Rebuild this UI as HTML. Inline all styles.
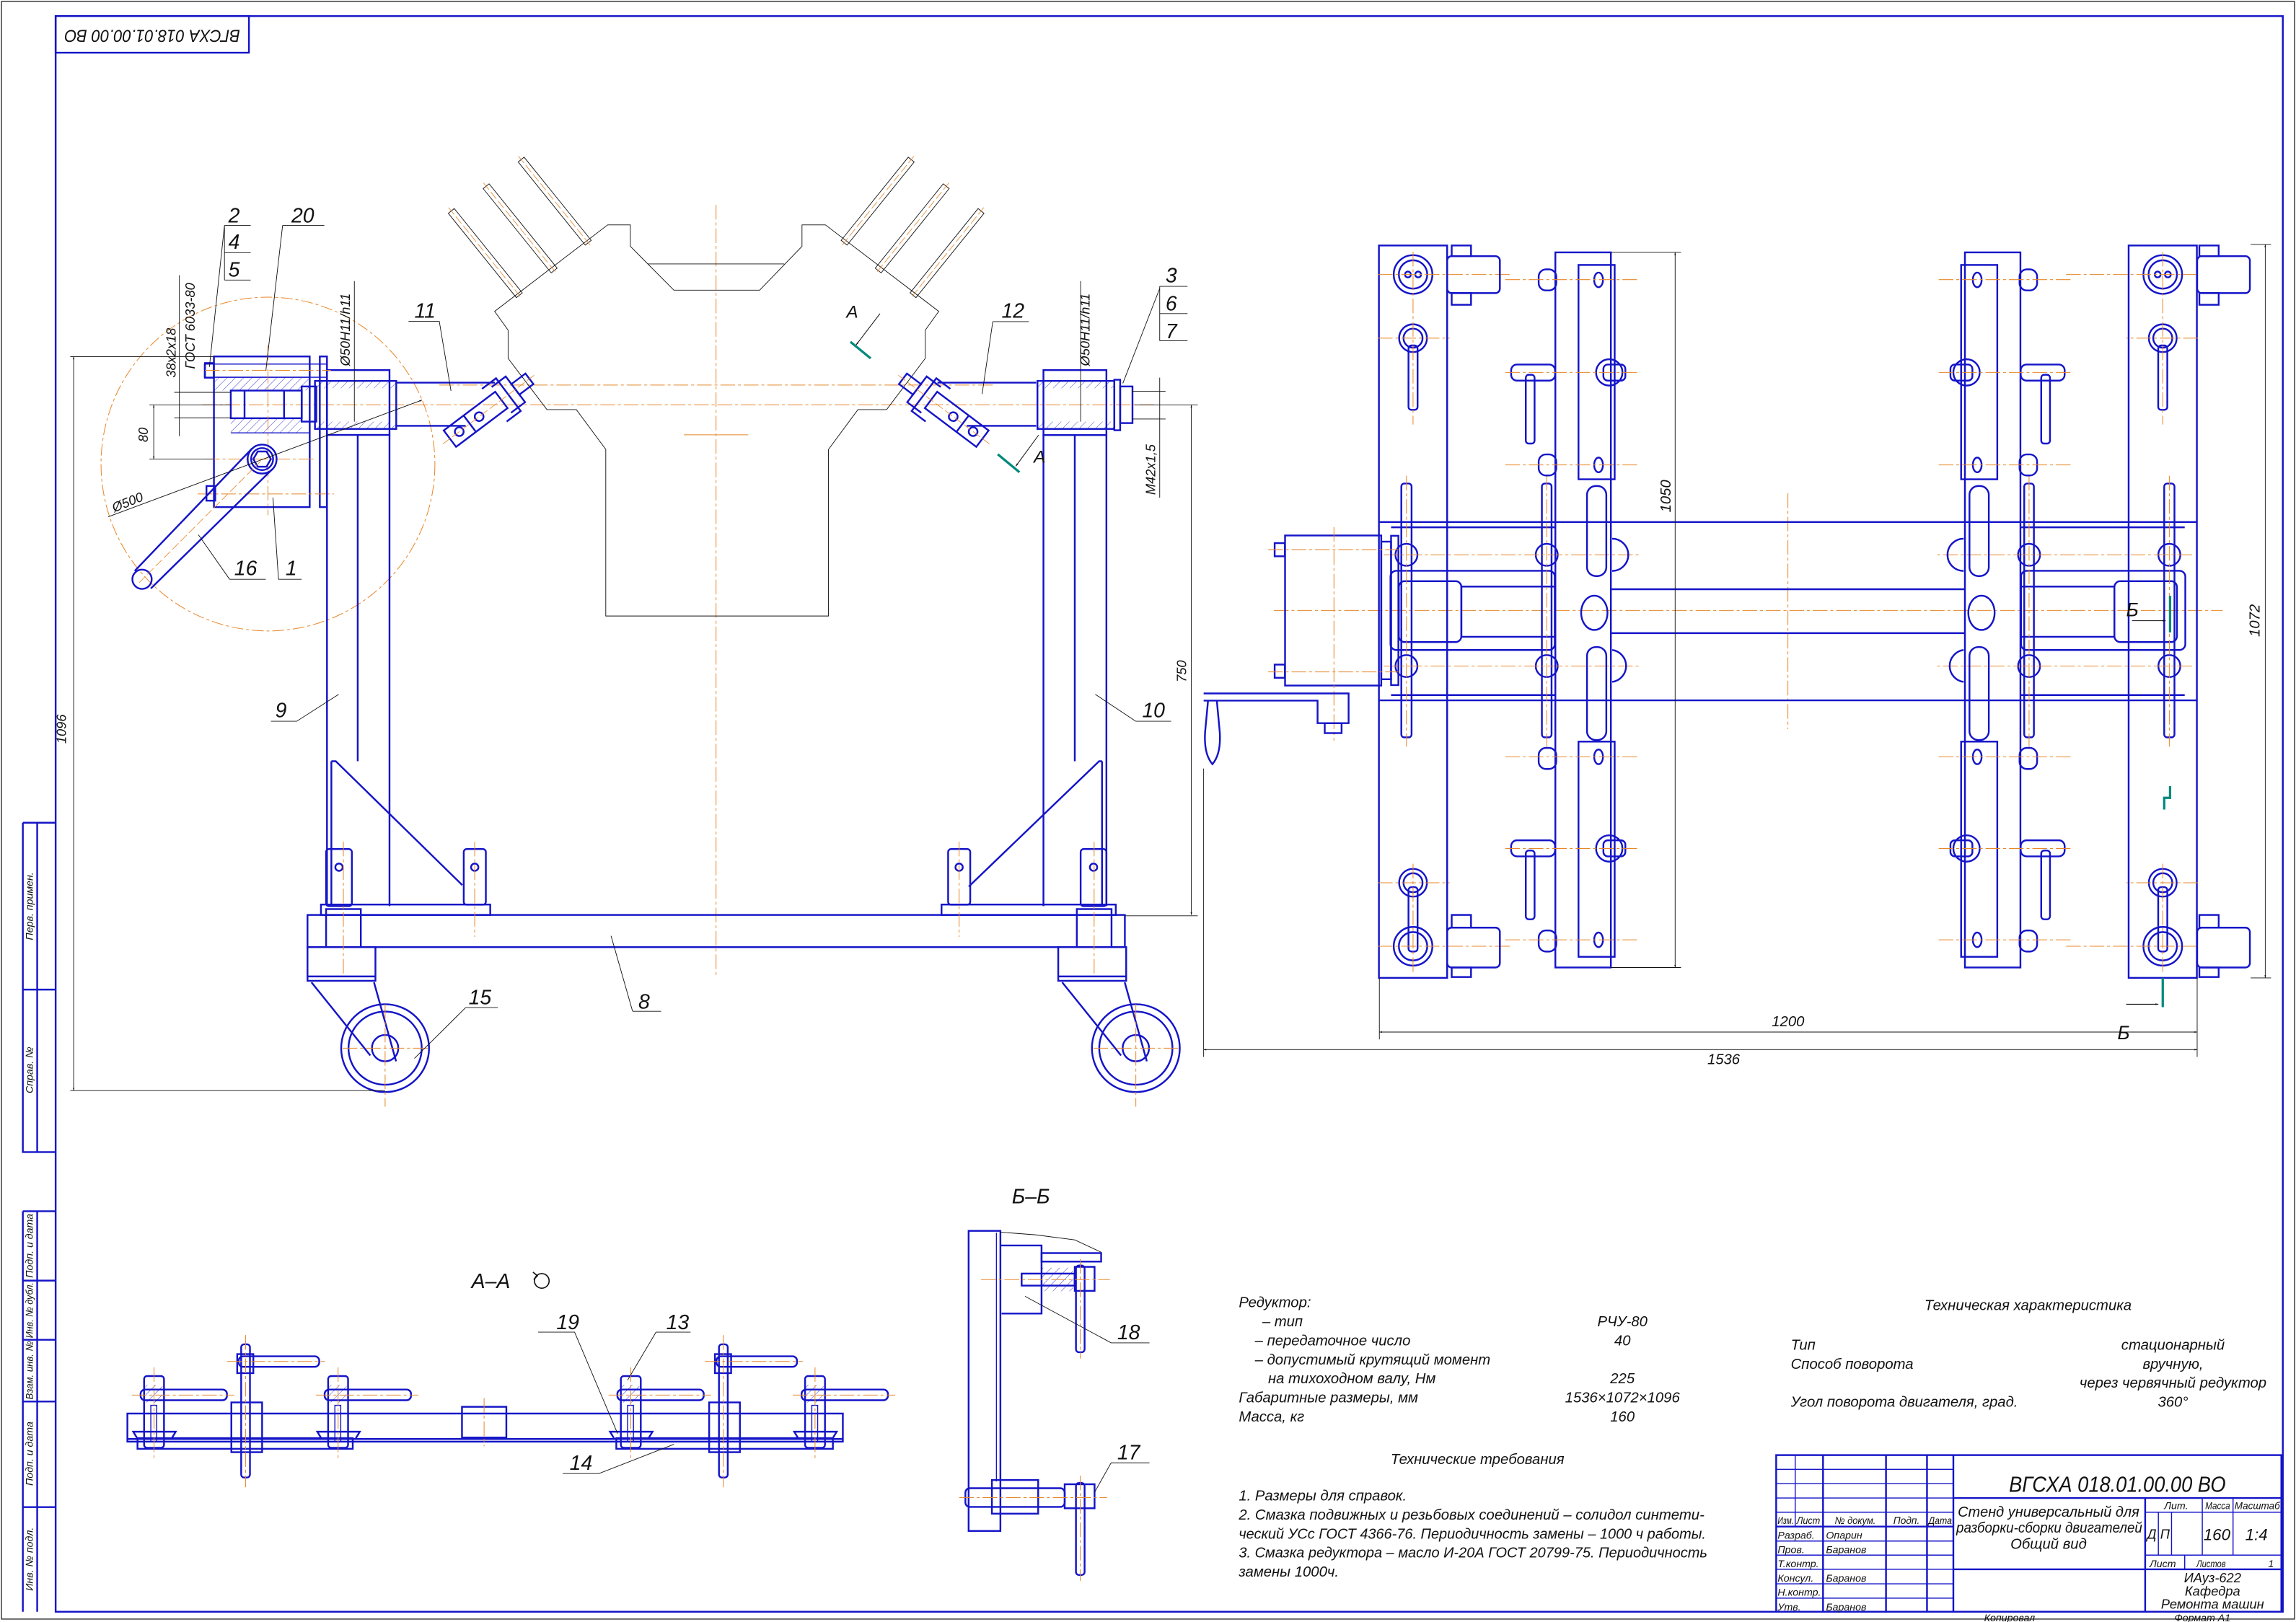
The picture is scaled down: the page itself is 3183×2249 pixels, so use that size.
<!DOCTYPE html>
<html><head><meta charset="utf-8">
<style>
html,body{margin:0;padding:0;background:#fff;}
svg{display:block;}
.t{font-family:"Liberation Sans Narrow","Liberation Sans",sans-serif;font-style:italic;fill:#111;}
.b{stroke:#1414c8;fill:none;stroke-width:1.2;}
.bt{stroke:#1414c8;fill:none;stroke-width:0.7;}
.k{stroke:#111;fill:none;stroke-width:0.45;}
.o{stroke:#e8872a;fill:none;stroke-width:0.5;stroke-dasharray:10 2 2 2;}
.tl{stroke:#00897b;fill:none;stroke-width:1.6;}
</style></head>
<body>
<svg width="3183" height="2249" viewBox="0 0 1568 1108" preserveAspectRatio="none" xmlns="http://www.w3.org/2000/svg">
<defs>
<pattern id="h" width="4" height="4" patternUnits="userSpaceOnUse" patternTransform="rotate(45)">
<line x1="0" y1="0" x2="0" y2="4" stroke="#1414c8" stroke-width="0.4"/>
</pattern>
<marker id="ar" viewBox="0 0 10 10" refX="10" refY="5" markerWidth="6" markerHeight="4" orient="auto-start-reverse"><path d="M0,2 L10,5 L0,8 z" fill="#111"/></marker>
</defs>
<rect x="0" y="0" width="1568" height="1108" fill="#fff"/>
<rect x="1" y="1" width="1566" height="1105" fill="none" stroke="#111" stroke-width="0.6"/>
<rect x="38" y="11" width="1521" height="1090" class="b"/>
<rect x="38" y="11" width="132" height="25" class="b"/>
<text class="t" x="44" y="23.5" font-size="12" textLength="120" lengthAdjust="spacingAndGlyphs" dominant-baseline="middle" transform="rotate(180 104 23.5)">ВГСХА 018.01.00.00 ВО</text>
<g class="b">
<path d="M15.6,562 H38 M15.6,562 V787 H38 M25.4,562 V787 M15.6,676 H38"/>
<path d="M15.6,827.4 H38 M15.6,827.4 V1101 M25.4,827.4 V1101 M15.6,874.8 H38 M15.6,915.2 H38 M15.6,957.4 H38 M15.6,1029.5 H38"/>
</g>
<g class="t" font-size="7" text-anchor="middle">
<text transform="translate(22.5 619) rotate(-90)">Перв. примен.</text>
<text transform="translate(22.5 731) rotate(-90)">Справ. №</text>
<text transform="translate(22.5 851) rotate(-90)">Подп. и дата</text>
<text transform="translate(22.5 895) rotate(-90)" textLength="38" lengthAdjust="spacingAndGlyphs">Инв. № дубл.</text>
<text transform="translate(22.5 936) rotate(-90)" textLength="40" lengthAdjust="spacingAndGlyphs">Взам. инв. №</text>
<text transform="translate(22.5 993) rotate(-90)">Подп. и дата</text>
<text transform="translate(22.5 1065) rotate(-90)">Инв. № подл.</text>
</g>

<line x1="489" y1="140" x2="489" y2="668" class="o"/>
<line x1="300" y1="263" x2="680" y2="263" class="o"/>
<line x1="138" y1="276.5" x2="790" y2="276.5" class="o"/>
<line x1="467" y1="297" x2="511" y2="297" stroke="#e8872a" stroke-width="0.5"/>
<circle cx="183" cy="317" r="114" fill="none" stroke="#e8872a" stroke-width="0.5" stroke-dasharray="8 2 2 2"/>
<polygon class="k" points="413.7,420.8 413.7,307 393.6,279.8 373.5,279.8 347,244.8 347,225.5 337.8,212.7 415,153.6 430.5,153.6 430.5,168.3 460.2,198.2 518.8,198.2 547.7,168.3 547.7,153.6 563.7,153.6 641.1,212.7 631.9,225.5 631.9,244.8 605.5,279.8 585.9,279.8 565.8,307 565.8,420.8"/>
<line x1="442.6" y1="180.3" x2="535.6" y2="180.3" class="k"/>
<g id="sticks">
<g transform="translate(308.2 144.1) rotate(51.1)"><rect x="0" y="-2.6" width="74" height="5.2" class="k"/><line x1="-3" y1="0" x2="77" y2="0" stroke="#e8872a" stroke-width="0.4" stroke-dasharray="6 2"/></g>
<g transform="translate(332 127.2) rotate(51.1)"><rect x="0" y="-2.6" width="74" height="5.2" class="k"/><line x1="-3" y1="0" x2="77" y2="0" stroke="#e8872a" stroke-width="0.4" stroke-dasharray="6 2"/></g>
<g transform="translate(355.9 109) rotate(51.1)"><rect x="0" y="-2.6" width="73" height="5.2" class="k"/><line x1="-3" y1="0" x2="76" y2="0" stroke="#e8872a" stroke-width="0.4" stroke-dasharray="6 2"/></g>
</g>
<use href="#sticks" transform="matrix(-1 0 0 1 978.2 0)"/>
<g id="clampL">
<line x1="270.6" y1="261.4" x2="338" y2="261.4" class="b"/>
<line x1="270.6" y1="290.9" x2="318" y2="290.9" class="b"/>
<g transform="translate(336 278) rotate(-37)">
<rect x="-36" y="-7" width="44" height="14" class="b" fill="#fff"/>
<line x1="-19" y1="-7" x2="-19" y2="7" class="b"/>
<circle cx="-28" cy="0" r="3" class="b"/><circle cx="-11" cy="0" r="3" class="b"/>
<path d="M2,-14 H14 V14 H2 M8,-11 H20 V11 H8" class="b"/>
<rect x="20" y="-4.5" width="12" height="9" class="b"/>
<line x1="-42" y1="0" x2="38" y2="0" stroke="#e8872a" stroke-width="0.4" stroke-dasharray="6 2"/>
</g>
</g>
<use href="#clampL" transform="matrix(-1 0 0 1 978.2 0)"/>
<rect x="146.1" y="243.5" width="65.4" height="102.9" class="b"/>
<rect x="146.1" y="257.7" width="65.4" height="9" fill="url(#h)"/>
<rect x="157.6" y="285.7" width="48.5" height="10" fill="url(#h)"/>
<rect x="157.6" y="266.8" width="48.5" height="18.9" class="b"/>
<line x1="167" y1="266.8" x2="167" y2="285.7" class="b"/><line x1="194" y1="266.8" x2="194" y2="285.7" class="b"/>
<path d="M146.1,257.7 H211.5 M157.6,295.7 H211.5" class="bt"/>
<rect x="139.6" y="248.7" width="83.7" height="9" class="bt"/>
<rect x="140" y="248" width="6" height="10" class="b"/>
<rect x="218.4" y="243.5" width="4.9" height="102.9" class="b"/>
<rect x="206" y="264" width="10" height="24" class="b"/>
<rect x="215.1" y="260.2" width="55.5" height="32.8" class="b"/>
<rect x="215.1" y="260.2" width="55.5" height="5" fill="url(#h)"/>
<rect x="215.1" y="288" width="55.5" height="5" fill="url(#h)"/>
<rect x="223.3" y="252.8" width="42.7" height="44.3" class="b"/>
<line x1="183" y1="236" x2="183" y2="352" class="o"/>
<line x1="140" y1="313.6" x2="215" y2="313.6" class="o"/>
<line x1="135" y1="337.4" x2="228" y2="337.4" class="o"/>
<line x1="140" y1="253" x2="226" y2="253" class="o"/>
<path d="M172,306.5 L92,390 M186,320.5 L103,402" class="b"/>
<circle cx="179" cy="313.6" r="9.9" class="b" fill="#fff"/>
<circle cx="179" cy="313.6" r="7.5" class="b"/>
<polygon points="185,313.6 182,318.8 176,318.8 173,313.6 176,308.4 182,308.4" class="b"/>
<circle cx="97" cy="395.7" r="6.6" class="b" fill="#fff"/>
<line x1="95" y1="398" x2="178" y2="315" stroke="#e8872a" stroke-width="0.4" stroke-dasharray="6 2"/>
<rect x="141" y="332" width="6" height="10" class="b"/>
<path d="M223.3,297 V619 M244.3,297 V520 M266,297 V619 M226.3,520 V619" class="b"/>
<polyline points="226.3,520 229.3,520 315.7,604.6" class="b"/>
<path d="M712.6,297 V619 M734,297 V520 M755.6,297 V619 M752.6,520 V619" class="b"/>
<polyline points="752.6,520 750.6,520 661.6,605.6" class="b"/>
<rect x="708.5" y="260.2" width="52.5" height="32.8" class="b"/>
<rect x="708.5" y="260.2" width="52.5" height="5" fill="url(#h)"/>
<rect x="708.5" y="288" width="52.5" height="5" fill="url(#h)"/>
<rect x="712.6" y="252.8" width="43" height="44.4" class="b"/>
<rect x="761" y="259.4" width="4" height="34.5" class="b"/>
<rect x="765" y="264" width="8.4" height="25" class="b"/>
<rect x="222.7" y="580" width="17.6" height="39" rx="2" class="b"/>
<circle cx="231.5" cy="592.4" r="2.5" class="b"/>
<rect x="316.7" y="580" width="15.1" height="38" rx="2" class="b"/>
<circle cx="324.2" cy="592.4" r="2.5" class="b"/>
<rect x="647.5" y="580" width="15.1" height="38" rx="2" class="b"/>
<circle cx="655" cy="592.4" r="2.5" class="b"/>
<rect x="738" y="580" width="17.6" height="39" rx="2" class="b"/>
<circle cx="746.8" cy="592.4" r="2.5" class="b"/>
<rect x="219.2" y="617.9" width="115.6" height="7.1" class="b"/>
<rect x="643" y="617.9" width="119" height="7.1" class="b"/>
<rect x="210" y="625" width="558.2" height="22" class="b"/>
<line x1="324.2" y1="575" x2="324.2" y2="640" class="o"/><line x1="655" y1="575" x2="655" y2="640" class="o"/>
<g id="casterL">
<rect x="222.7" y="621" width="23.7" height="26" class="b"/>
<rect x="210" y="647" width="46.4" height="23" class="b"/>
<line x1="210" y1="667" x2="256.4" y2="667" class="b"/>
<path d="M212.7,671 L252.9,721 M255.4,671 L270.5,725" class="b"/>
<circle cx="263" cy="716" r="30" class="b"/>
<circle cx="263" cy="716" r="25" class="b"/>
<circle cx="263" cy="716" r="9" class="b"/>
<line x1="234" y1="716" x2="293" y2="716" class="o"/>
<line x1="263" y1="686" x2="263" y2="756" class="o"/>
<line x1="234.5" y1="575" x2="234.5" y2="665" class="o"/>
</g>
<use href="#casterL" transform="translate(512.7 0)"/>
<g class="k">
<line x1="50.3" y1="243.6" x2="50.3" y2="745" marker-start="url(#ar)" marker-end="url(#ar)"/>
<line x1="48" y1="243.6" x2="146" y2="243.6"/>
<line x1="48" y1="745" x2="263" y2="745"/>
<line x1="105" y1="276.6" x2="105" y2="313.6" marker-start="url(#ar)" marker-end="url(#ar)"/>
<line x1="102" y1="276.6" x2="158" y2="276.6"/><line x1="102" y1="313.6" x2="146" y2="313.6"/>
<line x1="122.5" y1="188" x2="122.5" y2="298"/>
<line x1="119" y1="268" x2="158" y2="268"/><line x1="119" y1="285.5" x2="158" y2="285.5"/>
<line x1="242" y1="192" x2="242" y2="288"/>
<line x1="73.9" y1="353" x2="288.2" y2="273.3" marker-end="url(#ar)"/>
<line x1="738" y1="192" x2="738" y2="288"/>
<line x1="792" y1="258" x2="792" y2="340"/>
<line x1="773" y1="267.3" x2="796" y2="267.3"/><line x1="773" y1="286.2" x2="796" y2="286.2"/>
<line x1="813.6" y1="276.6" x2="813.6" y2="625" marker-start="url(#ar)" marker-end="url(#ar)"/>
<line x1="775" y1="276.6" x2="818" y2="276.6"/><line x1="768" y1="625.6" x2="818" y2="625.6"/>
<path d="M153.3,154 H171.2 M153.3,172.6 H171.2 M153.3,191.3 H171.2 M153.3,154 V191.3 M153.3,154 L143,250.7"/>
<path d="M193,154 H221.5 M193,154 L181.6,252.9"/>
<path d="M279,219.5 H300 L308,267"/>
<path d="M678,219.7 H702.7 M678,219.7 L670.7,269.2"/>
<path d="M792,195.6 H811 M792,214.2 H811 M792,232.8 H811 M792,195.6 V232.8 M792,197 L766.8,261.9"/>
<path d="M156.8,395.7 H181.5 M156.8,395.7 L135.5,365.3 M190,395.7 H206 M190.2,395.7 L186.4,339.9"/>
<path d="M185,492.7 H202.6 L231.3,474.3"/>
<path d="M775.7,492.7 H799.8 M775.7,492.7 L748,474.3"/>
<path d="M318,688.3 H340 M318,688.3 L283,723"/>
<path d="M432,690.8 H451.5 M432,690.8 L417.3,639.3"/>
</g>
<g class="t" font-size="14">
<text x="156" y="152">2</text><text x="156" y="170">4</text><text x="156" y="189">5</text>
<text x="199" y="152">20</text>
<text x="283" y="217">11</text>
<text x="684" y="217">12</text>
<text x="796" y="193">3</text><text x="796" y="212">6</text><text x="796" y="231">7</text>
<text x="160" y="393">16</text><text x="195" y="393">1</text>
<text x="188" y="490">9</text>
<text x="780" y="490">10</text>
<text x="320" y="686">15</text>
<text x="436" y="689">8</text>
<text x="578" y="217" font-size="12">А</text>
<text x="706" y="316" font-size="12">А</text>
</g>
<g class="t" font-size="9">
<text transform="translate(120 258) rotate(-90)">38х2х18</text>
<text transform="translate(133 252) rotate(-90)">ГОСТ 6033-80</text>
<text transform="translate(239 250) rotate(-90)">Ø50H11/h11</text>
<text transform="translate(744 250) rotate(-90)">Ø50H11/h11</text>
<text transform="translate(101 302) rotate(-90)">80</text>
<text transform="translate(78 350) rotate(-22)">Ø500</text>
<text transform="translate(789 338) rotate(-90)">М42х1,5</text>
<text transform="translate(810 466) rotate(-90)">750</text>
<text transform="translate(45 508) rotate(-90)">1096</text>
</g>
<line x1="580.8" y1="233.5" x2="594.6" y2="244.8" class="tl"/>
<line x1="601" y1="214.2" x2="584.6" y2="235.7" stroke="#111" stroke-width="0.5" marker-end="url(#ar)"/>
<line x1="681.4" y1="310.3" x2="696.2" y2="322.6" class="tl"/>
<line x1="709.3" y1="297.2" x2="693.7" y2="318.5" stroke="#111" stroke-width="0.5" marker-end="url(#ar)"/>

<line x1="870" y1="417" x2="1518" y2="417" class="o"/>
<line x1="1221" y1="337" x2="1221" y2="498" class="o"/>
<g id="half">
<rect x="941.7" y="167.7" width="46.6" height="500.3" class="b"/>
<path d="M941.7,356.6 H1221 M941.7,478.4 H1221 M950,360.2 H1062 M950,474.8 H1062" class="b"/>
<rect x="949.6" y="389.9" width="112.2" height="54.1" rx="4" class="b"/>
<rect x="955.3" y="397" width="42.7" height="41.6" rx="4" class="b"/>
<rect x="998" y="400.7" width="64" height="34.3" class="b"/>
<path d="M1100,402.5 H1221 M1100,432.5 H1221" class="b"/>
<circle cx="965" cy="187.5" r="13.2" class="b"/><circle cx="965" cy="187.5" r="9.7" class="b"/>
<circle cx="961.5" cy="187.5" r="2" class="b"/><circle cx="968.5" cy="187.5" r="2" class="b"/>
<circle cx="965" cy="231" r="9.5" class="b"/><circle cx="965" cy="231" r="6.5" class="b"/>
<rect x="961.9" y="236" width="6.2" height="44" rx="2" class="b"/>
<circle cx="965" cy="646.4" r="13.2" class="b"/><circle cx="965" cy="646.4" r="9.7" class="b"/>
<circle cx="965" cy="603" r="9.5" class="b"/><circle cx="965" cy="603" r="6.5" class="b"/>
<rect x="961.9" y="606" width="6.2" height="44" rx="2" class="b"/>
<path d="M941,187.5 H1033 M941,231 H990 M941,646.4 H1033 M941,603 H990 M965,172 V290 M965,590 V665" class="o"/>
<rect x="957" y="330.3" width="7" height="173.4" rx="2" class="b"/>
<circle cx="960.5" cy="379" r="7.5" class="b" fill="#fff"/><circle cx="960.5" cy="455" r="7.5" class="b" fill="#fff"/>
<rect x="1053" y="330.3" width="6.6" height="173.4" rx="2" class="b"/>
<circle cx="1056.3" cy="379" r="7.5" class="b" fill="#fff"/><circle cx="1056.3" cy="455" r="7.5" class="b" fill="#fff"/>
<path d="M945,379 H1120 M945,455 H1120 M960.5,325 V510 M1056.3,325 V510" class="o"/>
<rect x="1062.2" y="172.4" width="37.9" height="488.5" class="b" fill="#fff"/>
<rect x="1078" y="181" width="24.7" height="146.4" class="b"/>
<rect x="1078" y="506.6" width="24.7" height="147" class="b"/>
<rect x="1083.8" y="332" width="13.2" height="61.5" rx="6" class="b"/>
<rect x="1083.8" y="442" width="13.2" height="63.5" rx="6" class="b"/>
<ellipse cx="1088.8" cy="418.6" rx="9" ry="11.7" class="b"/>
<path d="M1101,368 A11,11 0 0 1 1101,390 M1101,444 A11,11 0 0 1 1101,465.8" class="b"/>
<ellipse cx="1091.7" cy="191.2" rx="3" ry="5" class="b"/><ellipse cx="1091.7" cy="317.6" rx="3" ry="5" class="b"/>
<ellipse cx="1091.7" cy="517" rx="3" ry="5" class="b"/><ellipse cx="1091.7" cy="642" rx="3" ry="5" class="b"/>
<rect x="1050.8" y="184" width="12" height="14.4" rx="5" class="b"/>
<rect x="1050.8" y="310.4" width="12" height="14.4" rx="5" class="b"/>
<rect x="1050.8" y="510.9" width="12" height="14.4" rx="5" class="b"/>
<rect x="1050.8" y="635.6" width="12" height="14.4" rx="5" class="b"/>
<rect x="1032" y="249" width="30" height="11" rx="4" class="b"/>
<rect x="1042" y="256" width="6" height="47" rx="2" class="b"/>
<rect x="1032" y="574" width="30" height="11" rx="4" class="b"/>
<rect x="1042" y="581" width="6" height="47" rx="2" class="b"/>
<circle cx="1099" cy="254.4" r="9" class="b"/><rect x="1095" y="249" width="15" height="11" rx="3" class="b"/>
<circle cx="1099" cy="579.6" r="9" class="b"/><rect x="1095" y="574" width="15" height="11" rx="3" class="b"/>
<path d="M1028,191 H1118 M1028,254.4 H1118 M1028,317.6 H1118 M1028,517 H1118 M1028,579.6 H1118 M1028,642 H1118" class="o"/>
</g>
<use href="#half" transform="matrix(-1 0 0 1 2442 0)"/>
<rect x="988.3" y="175" width="36" height="25.2" rx="3" class="b"/>
<rect x="991.4" y="167.7" width="13.2" height="7.3" class="b"/><rect x="991.4" y="200.2" width="13.2" height="8" class="b"/>
<rect x="988.3" y="633.7" width="36" height="27.2" rx="3" class="b"/>
<rect x="991.4" y="625" width="13.2" height="8.7" class="b"/><rect x="991.4" y="660.9" width="13.2" height="6.5" class="b"/>
<rect x="1500.5" y="175" width="36" height="25.2" rx="3" class="b"/>
<rect x="1502" y="167.7" width="13.2" height="7.3" class="b"/><rect x="1502" y="200.2" width="13.2" height="8" class="b"/>
<rect x="1500.5" y="633.7" width="36" height="27.2" rx="3" class="b"/>
<rect x="1502" y="625" width="13.2" height="8.7" class="b"/><rect x="1502" y="660.9" width="13.2" height="6.5" class="b"/>
<rect x="877.6" y="365.8" width="65.7" height="102.5" class="b" fill="#fff"/>
<rect x="943.3" y="370" width="6.7" height="94" class="b"/>
<rect x="950" y="366" width="5" height="102" class="b"/>
<rect x="870.5" y="371" width="7" height="9" class="b"/><rect x="870.5" y="454" width="7" height="9" class="b"/>
<line x1="911" y1="360" x2="911" y2="506" class="o"/>
<line x1="866" y1="375.5" x2="955" y2="375.5" class="o"/><line x1="866" y1="459" x2="955" y2="459" class="o"/>
<path d="M822,473.7 H921 V494 H899.8 V478.6 H822" class="b"/>
<rect x="904.7" y="494" width="11.5" height="6.8" class="b"/>
<path d="M825,478.6 L823,500 Q822,515 828,522 Q834,515 833,500 L831,478.6" class="b"/>
<g class="k">
<line x1="1144" y1="172.4" x2="1144" y2="660.9" marker-start="url(#ar)" marker-end="url(#ar)"/>
<line x1="1100" y1="172.4" x2="1148" y2="172.4"/><line x1="1100" y1="660.9" x2="1148" y2="660.9"/>
<line x1="942" y1="668" x2="942" y2="710"/><line x1="1500.5" y1="668" x2="1500.5" y2="722"/>
<line x1="822" y1="525" x2="822" y2="722"/>
<line x1="942" y1="705" x2="1500.5" y2="705" marker-start="url(#ar)" marker-end="url(#ar)"/>
<line x1="822" y1="717" x2="1500.5" y2="717" marker-start="url(#ar)" marker-end="url(#ar)"/>
<line x1="1547" y1="167" x2="1547" y2="668" marker-start="url(#ar)" marker-end="url(#ar)"/>
<line x1="1537" y1="167" x2="1551" y2="167"/><line x1="1537" y1="668" x2="1551" y2="668"/>
</g>
<g class="t" font-size="10">
<text x="1210" y="701">1200</text>
<text x="1166" y="727">1536</text>
<text transform="translate(1141 350) rotate(-90)">1050</text>
<text transform="translate(1543 435) rotate(-90)">1072</text>
<text x="1452" y="421" font-size="13">Б</text>
<text x="1446" y="710" font-size="13">Б</text>
</g>
<line x1="1482" y1="407" x2="1482" y2="432" class="tl"/>
<line x1="1456" y1="424" x2="1479" y2="424" stroke="#111" stroke-width="0.5" marker-end="url(#ar)"/>
<line x1="1477" y1="668" x2="1477" y2="688" class="tl"/>
<line x1="1452" y1="686" x2="1474" y2="686" stroke="#111" stroke-width="0.5" marker-end="url(#ar)"/>
<path d="M1478,553 V545 H1482 V537" class="tl"/>

<g>
<rect x="87" y="965.6" width="488.6" height="19.2" class="b"/>
<line x1="87" y1="983" x2="575.6" y2="983" class="b"/>
<rect x="93.9" y="982.4" width="147" height="7.3" class="b" fill="url(#h)"/>
<rect x="420.9" y="982.4" width="147.9" height="7.3" class="b" fill="url(#h)"/>
<rect x="315.5" y="961" width="30.3" height="21" class="b" fill="#fff"/>
<line x1="330.6" y1="955" x2="330.6" y2="988" class="o"/>
<g id="tallpin">
<rect x="158" y="958" width="21" height="34" class="b" fill="url(#h)"/>
<rect x="164.7" y="918.3" width="6" height="91" rx="2" class="b" fill="#fff"/>
<rect x="162" y="925" width="11" height="13" class="b" fill="url(#h)"/>
<rect x="163" y="926.5" width="55" height="7.2" rx="3" class="b" fill="#fff"/>
<line x1="167.7" y1="912" x2="167.7" y2="1016" class="o"/>
<line x1="155" y1="930" x2="222" y2="930" class="o"/>
</g>
<use href="#tallpin" transform="translate(326.3 0)"/>
<g id="shortpin">
<polygon points="91,978 120,978 117,983 94,983" class="b"/>
<rect x="98.4" y="940" width="13.6" height="49" rx="2" class="b" fill="#fff"/>
<rect x="99" y="946" width="12" height="12" fill="url(#h)"/>
<rect x="96" y="949.2" width="59" height="7.3" rx="3" class="b" fill="#fff"/>
<rect x="103" y="960" width="4" height="25" class="bt"/>
<line x1="105.2" y1="934" x2="105.2" y2="996" class="o"/>
<line x1="90" y1="953" x2="160" y2="953" class="o"/>
</g>
<use href="#shortpin" transform="translate(125.7 0)"/>
<use href="#shortpin" transform="translate(325.6 0)"/>
<use href="#shortpin" transform="translate(451.4 0)"/>
<g class="k">
<path d="M367.5,910 H392.4 L421.8,979.3"/>
<path d="M448,910 H471.6 M448,910 L428.6,942.8"/>
<path d="M384.3,1006.6 H409 L460.3,986.6"/>
</g>
<g class="t" font-size="14">
<text x="322" y="880">А–А</text>
<text x="380" y="908">19</text>
<text x="455" y="908">13</text>
<text x="389" y="1004">14</text>
</g>
<circle cx="370" cy="875" r="5" fill="none" stroke="#111" stroke-width="0.8"/>
<path d="M364,869 L367,871.5 L364.5,874" fill="none" stroke="#111" stroke-width="0.8"/>
</g>

<g>
<text class="t" x="691" y="822" font-size="14">Б–Б</text>
<rect x="661.5" y="840.8" width="21.7" height="205" class="b"/>
<line x1="680.5" y1="842" x2="680.5" y2="1012" class="bt"/>
<path d="M683,841.7 L707,843.5 L734,847 L752,855.4" class="k"/>
<path d="M683,850.8 H711.3 V897.3 H684" class="b"/>
<rect x="711.3" y="856" width="40.7" height="5.8" class="b" fill="url(#h)"/>
<rect x="697.7" y="870" width="36.2" height="8.2" class="b"/>
<rect x="711" y="866" width="22" height="16" fill="url(#h)"/>
<rect x="734" y="865.4" width="13.5" height="16.4" class="b" fill="url(#h)"/>
<rect x="734.8" y="864.5" width="5.9" height="59.2" rx="2" class="b" fill="#fff"/>
<line x1="670" y1="874.1" x2="758" y2="874.1" class="o"/>
<line x1="737.7" y1="860" x2="737.7" y2="928" class="o"/>
<rect x="677.4" y="1011" width="31.6" height="23" class="b" fill="url(#h)"/>
<rect x="659.3" y="1016.6" width="67.8" height="12.8" rx="3" class="b"/>
<rect x="727.1" y="1013.9" width="20.4" height="16.4" class="b" fill="url(#h)"/>
<rect x="734.8" y="1013" width="5.9" height="62.9" rx="2" class="b" fill="#fff"/>
<line x1="655" y1="1023" x2="756" y2="1023" class="o"/>
<line x1="737.7" y1="1008" x2="737.7" y2="1080" class="o"/>
<g class="k">
<path d="M700,885.5 L758.8,917.3 H785"/>
<path d="M747.5,1019.4 L758.8,999.3 H785"/>
</g>
<text class="t" x="763" y="915" font-size="14">18</text>
<text class="t" x="763" y="997" font-size="14">17</text>
</g>

<g class="t" font-size="10">
<text x="846" y="893">Редуктор:</text>
<text x="862" y="906">– тип</text>
<text x="857" y="919">– передаточное число</text>
<text x="857" y="932">– допустимый крутящий момент</text>
<text x="866" y="945">на тихоходном валу, Нм</text>
<text x="846" y="958">Габаритные размеры, мм</text>
<text x="846" y="971">Масса, кг</text>
<g text-anchor="middle">
<text x="1108" y="906">РЧУ-80</text>
<text x="1108" y="919">40</text>
<text x="1108" y="945">225</text>
<text x="1108" y="958">1536×1072×1096</text>
<text x="1108" y="971">160</text>
<text x="1009" y="1000">Технические требования</text>
<text x="1385" y="895">Техническая характеристика</text>
<text x="1484" y="922">стационарный</text>
<text x="1484" y="935">вручную,</text>
<text x="1484" y="948">через червячный редуктор</text>
<text x="1484" y="961">360°</text>
</g>
<text x="1223" y="922">Тип</text>
<text x="1223" y="935">Способ поворота</text>
<text x="1223" y="961">Угол поворота двигателя, град.</text>
<text x="846" y="1025">1. Размеры для справок.</text>
<text x="846" y="1038" textLength="318" lengthAdjust="spacingAndGlyphs">2. Смазка подвижных и резьбовых соединений – солидол синтети-</text>
<text x="846" y="1051" textLength="319" lengthAdjust="spacingAndGlyphs">ческий УСс ГОСТ 4366-76. Периодичность замены – 1000 ч работы.</text>
<text x="846" y="1064" textLength="320" lengthAdjust="spacingAndGlyphs">3. Смазка редуктора – масло И-20А ГОСТ 20799-75. Периодичность</text>
<text x="846" y="1077">замены 1000ч.</text>
</g>

<g class="bt">
<path d="M1213,1003.7 H1334 M1213,1013.5 H1334 M1213,1023.3 H1334 M1213,1033 H1334 M1213,1052.7 H1334 M1213,1062.3 H1334 M1213,1072 H1334 M1213,1081.9 H1334 M1213,1091.7 H1334"/>
<path d="M1226,994 V1042.8"/>
<path d="M1465,1033 H1558 M1465,1062.3 H1558"/>
<path d="M1474,1033 V1062.3 M1483,1033 V1062.3 M1504,1023.3 V1062.3 M1525,1023.3 V1062.3 M1492,1062.3 V1072"/>
</g>
<g class="b">
<rect x="1213" y="994" width="345" height="107"/>
<path d="M1245,994 V1101 M1288,994 V1101 M1316,994 V1101 M1334,994 V1101"/>
<path d="M1213,1042.8 H1334 M1334,1023.3 H1558 M1334,1072 H1558 M1465,1023.3 V1101"/>
</g>
<g class="t">
<text x="1372" y="1019" font-size="15" textLength="148" lengthAdjust="spacingAndGlyphs">ВГСХА 018.01.00.00 ВО</text>
<g font-size="10">
<text x="1337" y="1036" textLength="124" lengthAdjust="spacingAndGlyphs">Стенд универсальный для</text>
<text x="1336" y="1047" textLength="127" lengthAdjust="spacingAndGlyphs">разборки-сборки двигателей</text>
<text x="1399" y="1058" text-anchor="middle">Общий вид</text>
</g>
<g font-size="7">
<text x="1214" y="1041" textLength="11" lengthAdjust="spacingAndGlyphs">Изм.</text><text x="1227" y="1041" textLength="16" lengthAdjust="spacingAndGlyphs">Лист</text>
<text x="1253" y="1041" textLength="28" lengthAdjust="spacingAndGlyphs">№ докум.</text>
<text x="1293" y="1041" textLength="18" lengthAdjust="spacingAndGlyphs">Подп.</text>
<text x="1317" y="1041" textLength="16" lengthAdjust="spacingAndGlyphs">Дата</text>
<text x="1214" y="1051">Разраб.</text><text x="1247" y="1051">Опарин</text>
<text x="1214" y="1061">Пров.</text><text x="1247" y="1061">Баранов</text>
<text x="1214" y="1070.5">Т.контр.</text>
<text x="1214" y="1080.5">Консул.</text><text x="1247" y="1080.5">Баранов</text>
<text x="1214" y="1090">Н.контр.</text>
<text x="1214" y="1100">Утв.</text><text x="1247" y="1100">Баранов</text>
<text x="1478" y="1031">Лит.</text>
<text x="1506" y="1031" textLength="17" lengthAdjust="spacingAndGlyphs">Масса</text>
<text x="1526" y="1031" textLength="31" lengthAdjust="spacingAndGlyphs">Масштаб</text>
<text x="1468" y="1070.5">Лист</text>
<text x="1500" y="1070.5" textLength="20" lengthAdjust="spacingAndGlyphs">Листов</text><text x="1549" y="1070.5">1</text>
</g>
<g font-size="9" text-anchor="middle">
<text x="1469.5" y="1051">Д</text><text x="1478.5" y="1051">П</text>
<text x="1511" y="1081">ИАуз-622</text>
<text x="1511" y="1090">Кафедра</text>
<text x="1511" y="1099">Ремонта машин</text>
</g>
<text x="1514" y="1052" font-size="11" text-anchor="middle">160</text>
<text x="1541" y="1052" font-size="11" text-anchor="middle">1:4</text>
<text x="1355" y="1107.5" font-size="7">Копировал</text>
<text x="1485" y="1107.5" font-size="7">Формат   А1</text>
</g>
</svg>
</body></html>
